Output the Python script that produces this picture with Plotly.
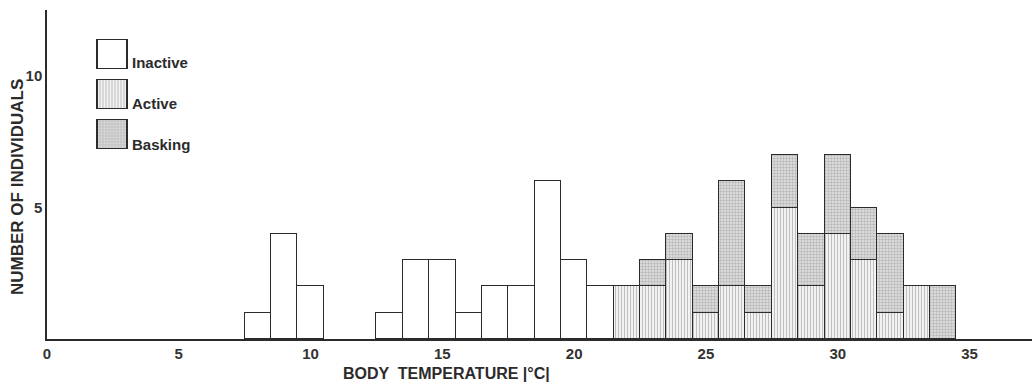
import plotly.graph_objects as go

# ---- data ----
temps = list(range(8, 35))  # body temperature bins (°C), 8..34
inactive = [1, 4, 2, 0, 0, 1, 3, 3, 1, 2, 2, 6, 3, 2, 0, 0, 0, 0, 0, 0, 0, 0, 0, 0, 0, 0, 0]
active   = [0, 0, 0, 0, 0, 0, 0, 0, 0, 0, 0, 0, 0, 0, 2, 2, 3, 1, 2, 1, 5, 2, 4, 3, 1, 2, 0]
basking  = [0, 0, 0, 0, 0, 0, 0, 0, 0, 0, 0, 0, 0, 0, 0, 1, 1, 1, 4, 1, 2, 2, 3, 2, 3, 0, 2]
x_ticks = [0, 5, 10, 15, 20, 25, 30, 35]
y_ticks = [5, 10]
legend_labels = ["Inactive", "Active", "Basking"]
legend_pos = [2, 1, 0]
legend_text_y = [0.8404, 0.7173, 0.5897]

INK = "#2b2b2b"
FONT = "Liberation Sans, Arial, sans-serif"

def nz(xs, ys):
    pts = [(x, y) for x, y in zip(xs, ys) if y > 0]
    return [p[0] for p in pts], [p[1] for p in pts]

styles = {
    "Inactive": dict(color="white", pattern=dict(shape="")),
    "Active": dict(color="white", pattern=dict(shape="|", fgcolor="#8a8a8a", bgcolor="#f2f2f2",
                                                size=3, solidity=0.35)),
    "Basking": dict(color="white", pattern=dict(shape=".", fgcolor="#8a8a8a", bgcolor="#e4e4e4",
                                                 size=3, solidity=0.5)),
}

fig = go.Figure()
for name, vals in zip(legend_labels, [inactive, active, basking]):
    xs, ys = nz(temps, vals)
    st = styles[name]
    fig.add_trace(go.Bar(
        x=xs, y=ys, width=1, name=name, showlegend=False,
        marker=dict(color=st["color"], pattern=st["pattern"], line=dict(color=INK, width=1.5)),
        xaxis="x", yaxis="y",
    ))

# legend swatches drawn as bars on a small overlay axis
for name, pos, ty in zip(legend_labels, legend_pos, legend_text_y):
    st = styles[name]
    fig.add_trace(go.Bar(
        x=[1], y=[pos], orientation="h", width=0.72, showlegend=False,
        marker=dict(color=st["color"], pattern=st["pattern"], line=dict(color=INK, width=1.5)),
        xaxis="x2", yaxis="y2", hoverinfo="skip",
    ))
    fig.add_annotation(x=0.0843, y=ty, xref="paper", yref="paper", text=name, showarrow=False,
                       xanchor="left", yanchor="middle",
                       font=dict(family=FONT, size=15, color=INK, weight="bold"))

fig.update_layout(
    width=1035, height=385,
    margin=dict(l=47, r=3, t=10, b=46),
    paper_bgcolor="white", plot_bgcolor="white",
    barmode="stack", bargap=0,
    xaxis=dict(range=[0, 37.37], tickvals=x_ticks, showgrid=False, zeroline=False,
               showline=True, linecolor=INK, linewidth=1.5, ticks="",
               tickfont=dict(family=FONT, size=15, color="#333", weight="bold")),
    yaxis=dict(range=[0, 12.51], tickvals=y_ticks, showgrid=False, zeroline=False,
               showline=True, linecolor=INK, linewidth=1.5, ticks="",
               tickfont=dict(family=FONT, size=15, color="#333", weight="bold")),
    xaxis2=dict(domain=[0.04924, 0.08274], range=[-0.05, 1.05], anchor="y2", visible=False),
    yaxis2=dict(domain=[0.5697, 0.9135], range=[-0.4, 2.4], anchor="x2", visible=False),
    showlegend=False,
)

fig.add_annotation(x=0.406, y=-0.106, xref="paper", yref="paper", text="BODY  TEMPERATURE |°C|",
                   showarrow=False, xanchor="center", yanchor="middle",
                   font=dict(family=FONT, size=16, color=INK, weight="bold"))
fig.add_annotation(x=-0.0305, y=0.462, xref="paper", yref="paper", text="NUMBER OF INDIVIDUALS",
                   showarrow=False, textangle=-90, xanchor="center", yanchor="middle",
                   font=dict(family=FONT, size=17, color=INK, weight="bold"))

fig.write_html("out.html")
